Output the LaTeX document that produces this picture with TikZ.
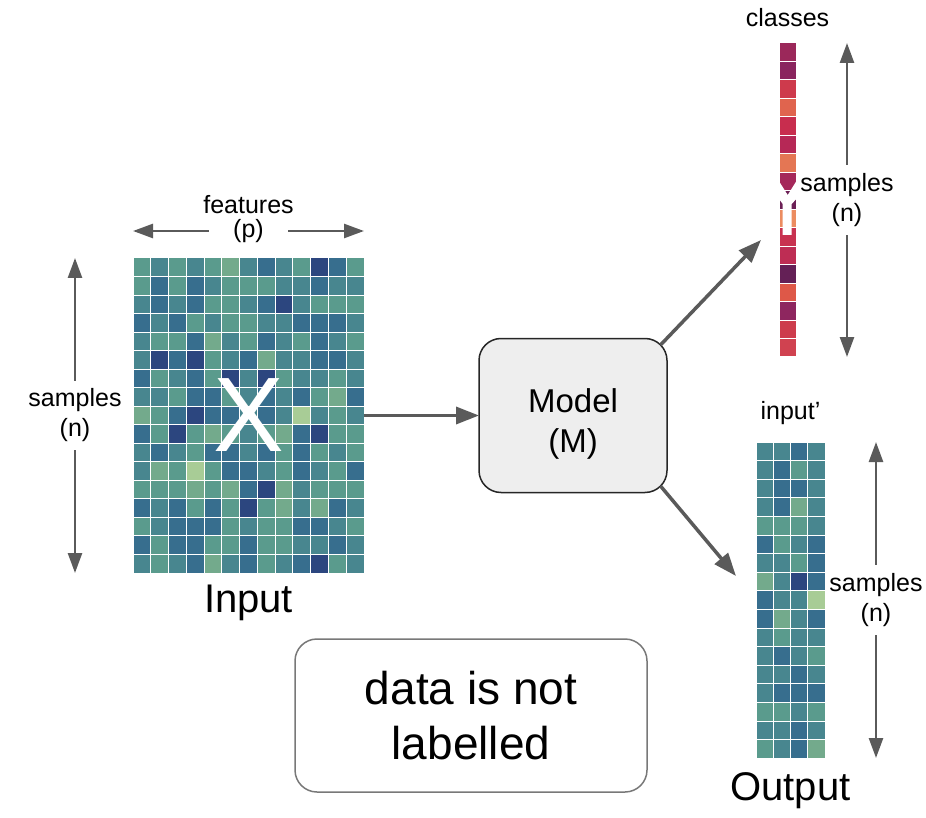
\documentclass[tikz,border=0pt]{standalone}
\usepackage{fontspec}
\setmainfont{Liberation Sans}
\usepackage{xcolor}
\usetikzlibrary{positioning, arrows.meta, calc}
\definecolor{arrowgray}{RGB}{90, 90, 90}
\definecolor{boxgray}{RGB}{238, 238, 238}
\definecolor{noteedge}{RGB}{120, 120, 120}
\definecolor{lv0}{RGB}{168, 204, 150}
\definecolor{lv1}{RGB}{115, 170, 140}
\definecolor{lv2}{RGB}{90, 155, 141}
\definecolor{lv3}{RGB}{72, 134, 143}
\definecolor{lv4}{RGB}{55, 110, 142}
\definecolor{lv5}{RGB}{44, 70, 127}

\begin{document}
\begin{tikzpicture}[
    x=1pt, y=-1pt,
    lbl/.style={font=\fontsize{25}{30}\selectfont, align=center, inner sep=1pt, text=black},
    biglbl/.style={font=\fontsize{40}{48}\selectfont, inner sep=1pt},
    gaplbl/.style={lbl, fill=white, inner ysep=8pt},
    cellbox/.style={draw=white, line width=1pt},
    matbox/.style={rectangle, inner sep=0pt, outer sep=0pt, anchor=north west},
    arrow/.style={-{Triangle[length=23pt, width=17pt]}, line width=3.5pt, arrowgray},
    spanarrow/.style={{Triangle[length=20pt, width=14pt]}-{Triangle[length=20pt, width=14pt]}, line width=2.6pt, arrowgray},
    modelbox/.style={rectangle, rounded corners=22pt, draw=black!85, fill=boxgray, line width=1.5pt, outer sep=0pt, minimum width=188pt, minimum height=154pt, align=center, font=\fontsize{33}{40}\selectfont},
    notebox/.style={rectangle, rounded corners=22pt, draw=noteedge, line width=1.5pt, minimum width=352pt, minimum height=153pt, align=center, font=\fontsize{46}{55}\selectfont}
]
    \useasboundingbox (0,0) rectangle (926,818);

    \foreach \row [count=\r from 0] in {
        {2,3,2,3,2,1,3,4,3,2,5,4,2},{2,4,2,4,3,2,2,2,3,3,4,3,3},{3,4,3,4,2,2,3,4,5,3,2,2,2},
        {4,3,4,2,3,2,2,3,3,4,4,4,3},{3,2,2,4,1,3,2,4,3,2,4,3,2},{3,5,4,5,2,3,4,1,3,3,4,4,3},
        {4,2,3,4,2,5,3,5,2,3,3,2,3},{3,3,2,4,4,2,3,4,3,4,2,1,4},{1,2,4,5,4,4,3,4,3,0,3,2,3},
        {4,2,5,2,1,2,3,2,1,4,5,2,2},{3,4,3,2,4,4,3,4,2,4,2,3,2},{3,1,2,0,2,4,4,3,2,4,3,2,4},
        {2,2,2,1,2,1,4,5,1,3,2,2,2},{4,3,4,2,4,2,5,2,1,3,1,4,3},{2,3,4,4,4,2,3,2,2,4,4,3,2},
        {4,2,4,4,2,2,4,2,2,3,3,4,3},{3,2,3,4,1,3,4,2,3,4,5,2,3}}
        \foreach \v [count=\c from 0] in \row
            \filldraw[cellbox, fill=lv\v] ({133+\c*17.77}, {258+\r*18.53}) rectangle ++(17.77, 18.53);

    \foreach \row [count=\r from 0] in {
        {3,3,4,3},{3,4,2,3},{3,4,4,3},{3,4,1,3},{2,2,2,3},{4,2,3,4},{3,3,2,4},{1,3,5,4},{4,3,3,0},
        {4,1,3,4},{3,2,3,3},{3,4,3,2},{3,3,4,3},{3,4,4,4},{2,2,3,2},{3,3,4,3},{2,3,4,1}}
        \foreach \v [count=\c from 0] in \row
            \filldraw[cellbox, fill=lv\v] ({756+\c*17.25}, {442+\r*18.6}) rectangle ++(17.25, 18.6);

    \foreach \rgb [count=\r from 0] in {
        {155,40,90},{138,36,94},{206,58,76},{224,100,78},{200,45,78},{182,40,86},
        {228,118,84},{165,40,90},{108,32,86},{236,140,96},{200,50,80},{190,45,84},
        {100,32,86},{222,88,72},{142,38,95},{205,60,76},{208,66,80}} {
        \definecolor{clscol}{RGB}{\rgb}
        \filldraw[cellbox, fill=clscol] (779, {43+\r*18.47}) rectangle ++(17, 18.47);
    }
    \fill[white] (779.3,181.7) -- (787.7,195) -- (796,181.7) -- (796,199.3) -- (791.7,204) -- (791.7,235)
        -- (782.7,235) -- (782.7,204) -- (779.3,199.3) -- cycle;

    \node[matbox, minimum width=231pt, minimum height=315pt, text=white, font=\fontsize{106}{106}\selectfont] (X) at (133,258) {X};
    \node[matbox, minimum width=17pt, minimum height=314pt] (cls) at (779,43) {};
    \node[matbox, minimum width=69pt, minimum height=316pt] (outmat) at (756,442) {};

    \node[biglbl, below=11pt of X] (inputlbl) {Input};
    \draw[spanarrow] ([yshift=27pt]X.north west) -- node[gaplbl, inner xsep=24pt, inner ysep=0pt] (featp) {(p)} ([yshift=27pt]X.north east);
    \node[lbl, above=3pt of featp] (featlbl) {features};
    \draw[spanarrow] ([xshift=-58pt]X.north west) -- node[gaplbl] (xsamples) {samples\\(n)} ([xshift=-58pt]X.south west);

    \node[modelbox, right=115pt of X] (model) {\rule{0pt}{40pt}Model\\(M)};
    \draw[arrow] (X) -- (model);

    \node[lbl, above=15pt of cls] (clslbl) {classes};
    \draw[spanarrow] ([xshift=51pt]cls.north east) -- node[gaplbl] (clssamples) {samples\\(n)} ([xshift=51pt]cls.south east);

    \node[lbl, above=16pt of outmat] (outlbl) {input’};
    \node[biglbl, below=13pt of outmat] (outputlbl) {Output};
    \draw[spanarrow] ([xshift=51pt]outmat.north east) -- node[gaplbl] (outsamples) {samples\\(n)} ([xshift=51pt]outmat.south east);

    \coordinate (clstip) at ($(cls.west)+(-18,40)$);
    \coordinate (outtip) at ($(outmat.west)+(-20,-24)$);
    \draw[arrow] ($(model.north east)+(-6.4,6.4)$) -- (clstip);
    \draw[arrow] ($(model.south east)+(-6.4,-6.4)$) -- (outtip);

    \node[notebox] (note) at (471,715.5) {data is not\\labelled};
\end{tikzpicture}
\end{document}
